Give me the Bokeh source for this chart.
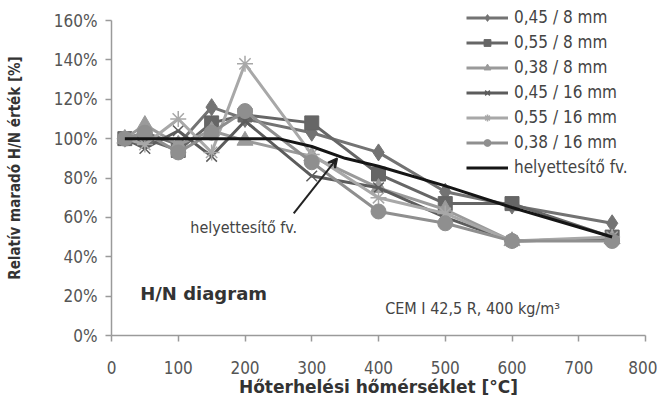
from bokeh.plotting import figure
from bokeh.models import Range1d, Label, Arrow, VeeHead, Legend, LegendItem, FixedTicker
from bokeh.embed import file_html
from bokeh.resources import INLINE

# ---- data ----
temps = [20, 50, 100, 150, 200, 300, 400, 500, 600, 750]
s045_8 = [100, 103, 97, 116, 110, 103, 93, 73, 66, 57]
s055_8 = [100, 100, 94, 108, 112, 108, 82, 67, 67, 50]
s038_8 = [100, 107, 97, 104, 99, 91, 75, 64, 48, 49]
s045_16 = [100, 95, 104, 91, 109, 81, 75, 60, 48, 49]
s055_16 = [100, 97, 110, 93, 138, 92, 70, 62, 48, 50]
s038_16 = [100, 103, 93, 103, 114, 88, 63, 57, 48, 48]
fit_t = [20, 100, 200, 250, 300, 350, 400, 500, 600, 750]
fit_v = [100, 100, 100, 100, 96, 90, 86, 76, 65, 50]

labels = ["0,45 / 8 mm", "0,55 / 8 mm", "0,38 / 8 mm",
          "0,45 / 16 mm", "0,55 / 16 mm", "0,38 / 16 mm"]
fit_label = "helyettesítő fv."
x_ticks = [0, 100, 200, 300, 400, 500, 600, 700, 800]
y_ticks = [0, 20, 40, 60, 80, 100, 120, 140, 160]

NARROW = "'DejaVu Sans Condensed', 'DejaVu Sans', sans-serif"

p = figure(width=657, height=403, output_backend="svg", toolbar_location=None,
           x_range=Range1d(0, 800), y_range=Range1d(0, 170.16),
           min_border_left=111, min_border_right=12, min_border_top=0,
           min_border_bottom=68)
p.outline_line_color = None
p.xgrid.visible = False
p.ygrid.visible = False
p.background_fill_color = "white"

series = [
    (s045_8, "diamond", "#737373", 17),
    (s055_8, "square", "#666666", 14),
    (s038_8, "triangle", "#9a9a9a", 16),
    (s045_16, "x", "#5c5c5c", 15),
    (s055_16, "asterisk", "#a8a8a8", 16),
    (s038_16, "circle", "#8f8f8f", 15),
]

items = []
for (vals, mk, col, sz), lab in zip(series, labels):
    r1 = p.line(temps, vals, line_color=col, line_width=3)
    if mk in ("x", "asterisk"):
        r2 = p.scatter(temps, vals, marker=mk, size=sz, line_color=col, line_width=1.5)
    else:
        r2 = p.scatter(temps, vals, marker=mk, size=sz, fill_color=col, line_color=col)
    items.append(LegendItem(label=lab, renderers=[r1, r2]))

rf = p.line(fit_t, fit_v, line_color="#151515", line_width=3)
items.append(LegendItem(label=fit_label, renderers=[rf]))

legend = Legend(items=items, location=(355, 158))
legend.border_line_color = None
legend.background_fill_alpha = 0
legend.label_text_font = NARROW
legend.label_text_font_size = "17px"
legend.label_text_color = "#444444"
legend.glyph_width = 42
legend.glyph_height = 17
legend.label_height = 17
legend.spacing = 5
legend.padding = 0
legend.margin = 0
legend.label_standoff = 6
p.add_layout(legend, "center")

# axes
for ax in (p.xaxis[0], p.yaxis[0]):
    ax.axis_line_color = "#9a9a9a"
    ax.axis_line_width = 1.5
    ax.major_tick_line_color = "#9a9a9a"
    ax.major_tick_line_width = 1.5
    ax.major_tick_out = 6
    ax.major_tick_in = 0
    ax.minor_tick_line_color = None
    ax.major_label_text_font = NARROW
    ax.major_label_text_font_size = "17px"
    ax.major_label_text_color = "#555555"
    ax.axis_label_text_font_style = "bold"
    ax.axis_label_text_color = "#333333"

p.xaxis.ticker = FixedTicker(ticks=x_ticks)
p.yaxis.ticker = FixedTicker(ticks=y_ticks)
p.yaxis.bounds = (0, 160)
p.xaxis.bounds = (0, 800)
p.yaxis.major_label_overrides = {t: f"{t}%" for t in y_ticks}
p.xaxis.major_label_standoff = 19
p.yaxis.major_label_standoff = 8

p.xaxis.axis_label = "Hőterhelési hőmérséklet [°C]"
p.xaxis.axis_label_text_font = "DejaVu Sans"
p.xaxis.axis_label_text_font_size = "17px"
p.xaxis.axis_label_standoff = 0
p.yaxis.axis_label = "Relatív maradó H/N érték [%]"
p.yaxis.axis_label_text_font = NARROW
p.yaxis.axis_label_text_font_size = "15px"
p.yaxis.axis_label_standoff = 27

# annotations
p.add_layout(Label(x=118, y=55, text="helyettesítő fv.", text_font=NARROW,
                   text_font_size="16px", text_color="#444444",
                   text_baseline="alphabetic"))
p.add_layout(Arrow(end=VeeHead(size=9, line_color="#222222", line_width=2),
                   x_start=273, y_start=62, x_end=338, y_end=90,
                   line_color="#222222", line_width=2))
p.add_layout(Label(x=43, y=21.5, text="H/N diagram", text_font="DejaVu Sans",
                   text_font_style="bold", text_font_size="18px",
                   text_color="#333333", text_baseline="alphabetic"))
p.add_layout(Label(x=410, y=13.5, text="CEM I 42,5 R, 400 kg/m³", text_font=NARROW,
                   text_font_size="16px", text_color="#444444",
                   text_baseline="alphabetic"))

open("out.html", "w").write(file_html(p, INLINE))
